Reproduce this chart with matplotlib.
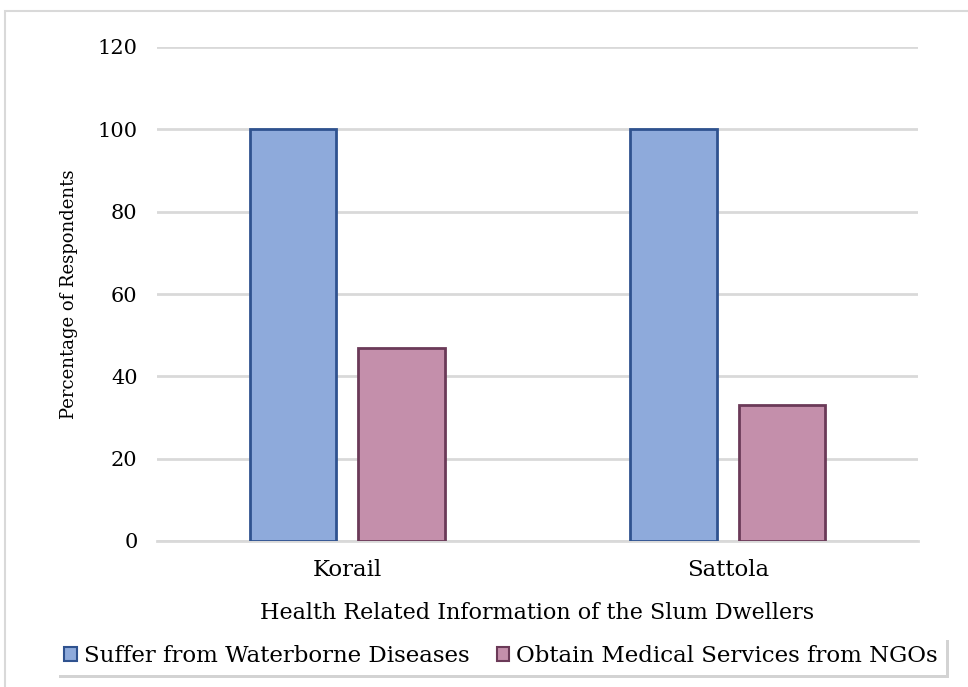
import matplotlib
matplotlib.use("Agg")
import matplotlib.pyplot as plt
import numpy as np
from matplotlib.patches import Rectangle

categories = ["Korail", "Sattola"]
series_names = ["Suffer from Waterborne Diseases", "Obtain Medical Services from NGOs"]
waterborne = [100, 100]
ngo = [47, 33]
yticks = [0, 20, 40, 60, 80, 100, 120]

plt.rcParams['font.family'] = ['DejaVu Serif', 'Liberation Serif']

fig = plt.figure(figsize=(9.68, 6.87), dpi=100)
W, H = 968, 687
ax = fig.add_axes([157 / W, 1 - 541 / H, (918 - 157) / W, (541 - 47) / H])

x = np.arange(len(categories))
w = 0.227
off = 0.143
ax.bar(x - off, waterborne, w, color='#8eaadb', edgecolor='#2f528f', linewidth=2, label=series_names[0], zorder=3)
ax.bar(x + off, ngo, w, color='#c48fab', edgecolor='#6b3a58', linewidth=2, label=series_names[1], zorder=3)

ax.set_xlim(-0.5, 1.5)
ax.set_ylim(0, 120)
ax.set_yticks(yticks)
ax.set_xticks(x)
ax.set_xticklabels(categories, fontsize=16.5)
ax.tick_params(axis='y', labelsize=15, length=0, pad=14)
ax.tick_params(axis='x', length=0, pad=13)
ax.grid(axis='y', color='#d9d9d9', linewidth=2, zorder=0)
for s in ['top', 'right', 'left']:
    ax.spines[s].set_visible(False)
ax.spines['bottom'].set_color('#d9d9d9')
ax.spines['bottom'].set_linewidth(2)
ax.set_ylabel("Percentage of Respondents", fontsize=13, labelpad=14)
ax.set_xlabel("Health Related Information of the Slum Dwellers", fontsize=16, labelpad=15)

# outer frame
fig.patches.append(Rectangle((5 / W, -0.1), 1.2, 1 - 11 / H + 0.1, transform=fig.transFigure,
                             fill=False, edgecolor='#d9d9d9', linewidth=1.5))

# legend with shadow
leg = fig.legend(loc='center', bbox_to_anchor=(501 / W, 1 - 656 / H), ncol=2, fontsize=16.5,
                 frameon=True, fancybox=False, shadow={'color': '#c8c8c8', 'alpha': 0.8},
                 handlelength=0.55, handleheight=0.55,
                 handletextpad=0.3, columnspacing=1.2, borderpad=0.35)
leg.get_frame().set_edgecolor('white')
leg.get_frame().set_linewidth(0)
for h in leg.legend_handles:
    h.set_linewidth(1.5)

fig.savefig("out.png", dpi=100)
